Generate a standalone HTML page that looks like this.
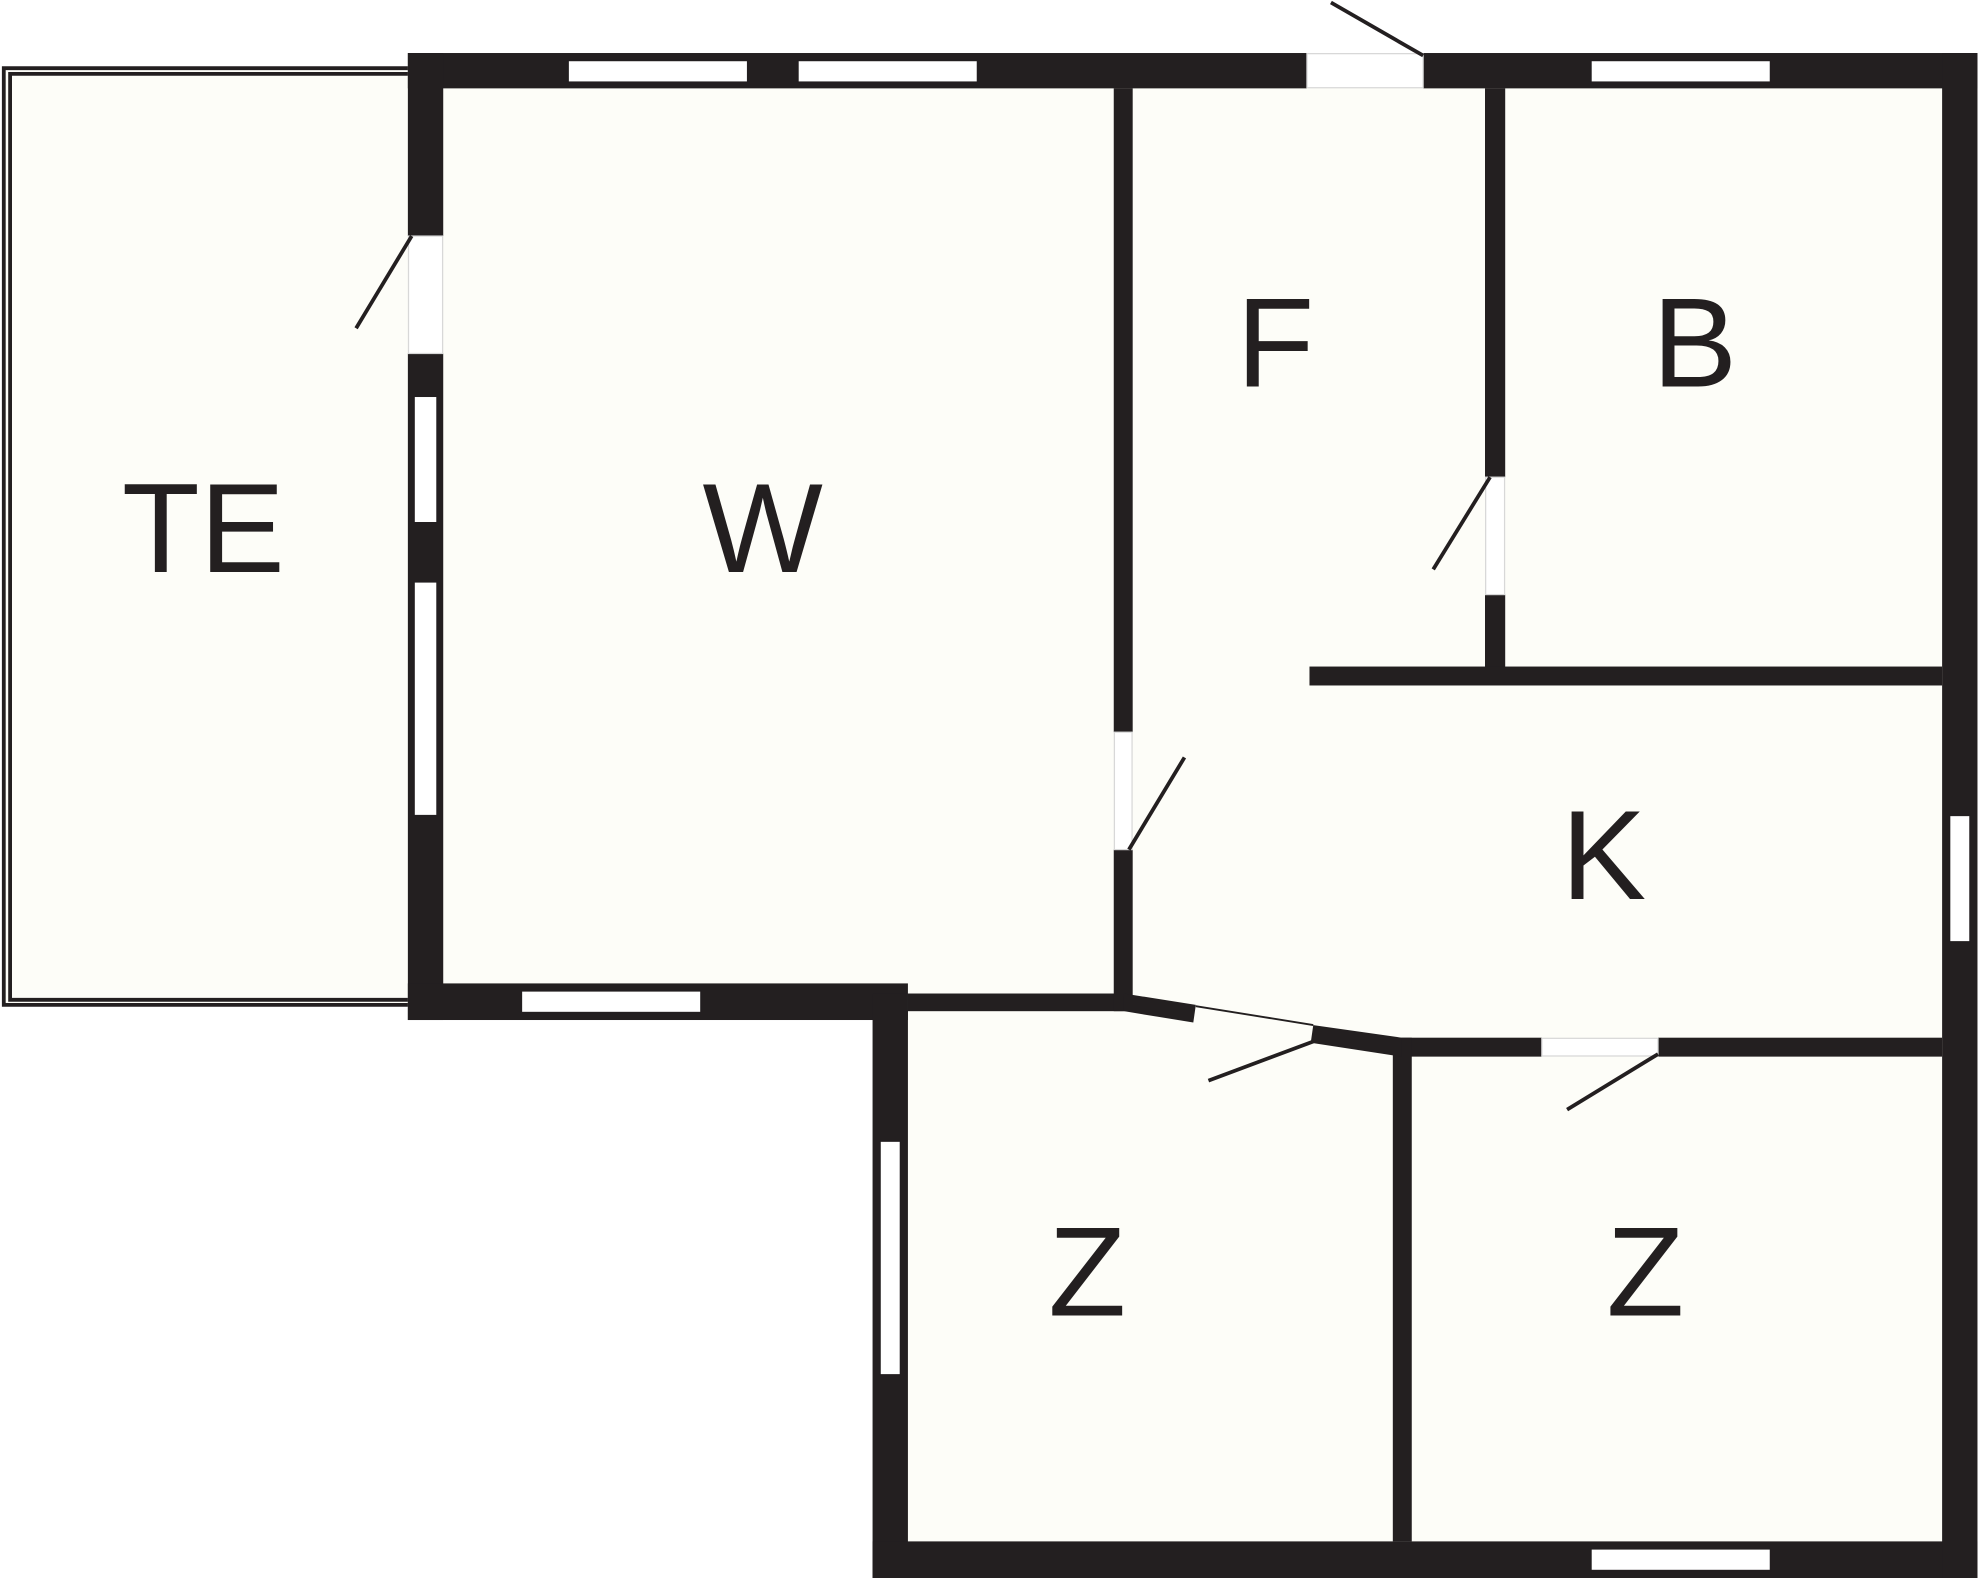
<!DOCTYPE html>
<html><head><style>html,body{margin:0;padding:0;background:#fff;}svg{display:block;}</style></head>
<body>
<svg width="1980" height="1578" viewBox="0 0 1568 1250" preserveAspectRatio="none" xmlns="http://www.w3.org/2000/svg">
<g fill="#fdfdf8">
<rect x="2" y="53" width="330" height="744"/>
<polygon points="323,42 1566,42 1566,1250 691,1250 691,808 323,808"/>
</g>
<g fill="none" stroke="#231f20" stroke-width="3">
<polyline points="323,54 3,54 3,796 323,796"/>
<polyline points="323,58.5 8,58.5 8,792 323,792"/>
</g>
<g fill="#231f20">
<rect x="323" y="42" width="712" height="28"/>
<rect x="1127" y="42" width="439" height="28"/>
<rect x="323" y="42" width="28" height="145"/>
<rect x="323" y="280" width="28" height="528"/>
<rect x="323" y="779" width="396" height="29"/>
<rect x="719" y="787" width="171" height="14"/>
<rect x="691" y="787" width="28" height="463"/>
<rect x="691" y="1221" width="875" height="29"/>
<rect x="1538" y="42" width="28" height="1208"/>
<rect x="882" y="70" width="15" height="510"/>
<rect x="882" y="673" width="15" height="128"/>
<rect x="1176" y="70" width="16" height="308"/>
<rect x="1176" y="471" width="16" height="65"/>
<rect x="1037" y="528" width="501" height="15"/>
<rect x="1110" y="822" width="111" height="15"/>
<rect x="1313" y="822" width="225" height="15"/>
<rect x="1103" y="822" width="15" height="399"/>
<polygon points="890,787 947,796 945,810 890,801"/>
<polygon points="1040,812 1110,822 1110,837 1038,826"/>
</g>
<line x1="947" y1="797" x2="1040" y2="812" stroke="#231f20" stroke-width="1.5"/>
<!-- door openings -->
<g fill="#fff" stroke="#d8d8d8" stroke-width="1">
<rect x="323.5" y="187" width="27" height="93"/>
<rect x="1035" y="42.5" width="92" height="27"/>
<rect x="1176.5" y="378" width="15" height="93"/>
<rect x="882.5" y="580" width="14" height="93"/>
<rect x="1221" y="822.5" width="92" height="14"/>
</g>
<g fill="#fff" stroke="#231f20" stroke-width="1">
<rect x="450" y="48" width="142" height="17"/>
<rect x="632" y="48" width="142" height="17"/>
<rect x="1260" y="48" width="142" height="17"/>
<rect x="328" y="314" width="18" height="100"/>
<rect x="328" y="461" width="18" height="185"/>
<rect x="413" y="785" width="142" height="17"/>
<rect x="697" y="904" width="16" height="185"/>
<rect x="1260" y="1227" width="142" height="17"/>
<rect x="1544" y="646" width="16" height="100"/>
</g>
<g stroke="#231f20" stroke-width="3" fill="none">
<line x1="326" y1="187" x2="282" y2="260"/>
<line x1="1127" y1="44" x2="1054" y2="2"/>
<line x1="1180" y1="378" x2="1135" y2="451"/>
<line x1="894" y1="673" x2="938" y2="600"/>
<line x1="1040" y1="825" x2="957" y2="856"/>
<line x1="1313" y1="835" x2="1241" y2="879"/>
</g>
<g font-family="Liberation Sans, sans-serif" font-size="101" fill="#231f20" text-anchor="middle">
<text x="161" y="453">TE</text>
<text x="604" y="453">W</text>
<text x="1010" y="306">F</text>
<text x="1342" y="306">B</text>
<text x="1270" y="712">K</text>
<text x="861" y="1042">Z</text>
<text x="1303" y="1042">Z</text>
</g>
</svg>
</body></html>
